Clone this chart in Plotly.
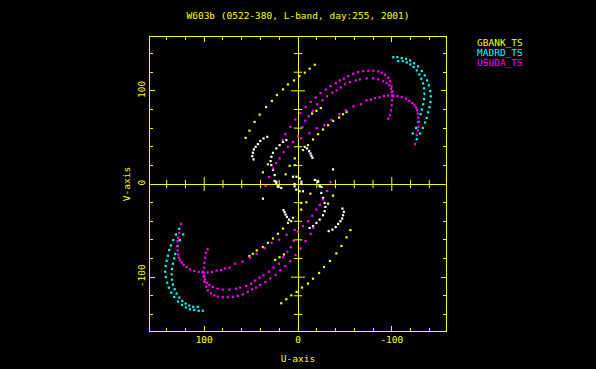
import plotly.graph_objects as go

title_text = "W603b (0522-380, L-band, day:255, 2001)"
station_names = ["GBANK_TS", "MADRD_TS", "USUDA_TS"]
station_colors = ["#ffff00", "#00ffff", "#ff00ff"]
ref_color = "#ffffff"
axis_color = "#ffff00"

# Upper half of the uv tracks (U, V in the same units as the axes).
# The conjugate points (-U, -V) complete the coverage.
gbank_u = [55.9, 51.7, 46.3, 40.9, 34.0, 27.8, 22.5, 16.0, 10.7, 4.3, -1.5, -7.2, -12.5, -17.9,
           13.2, 8.9, 3.5, -5.3, -10.7, -16.0, -21.4, -26.7, -32.1, -37.4, -43.9, -48.1, -51.8,
           37.4, 32.1, 3.5, -15.0, -19.7, -24.3]
gbank_v = [49.5, 57.2, 66.6, 74.5, 82.6, 89.1, 95.5, 101.6, 106.9, 111.2, 115.8, 119.5, 123.8, 128.0,
           10.4, 19.6, 27.5, 36.4, 41.7, 47.8, 53.5, 58.5, 63.1, 67.7, 71.3, 74.9, 77.3,
           12.5, 21.1, 20.3, 75.6, 78.6, 81.5]

madrd_u = [-101.6, -105.9, -110.6, -115.2, -119.5, -123.7, -128.0, -132.0, -135.2, -137.6,
           -139.5, -140.9, -141.6, -141.2, -140.1, -138.7, -137.3, -135.5, -133.0, -130.2, -126.6,
           -106.9, -111.7, -115.9, -119.8, -123.4, -126.6, -129.4, -131.5, -133.4, -134.4,
           -134.8, -134.4, -133.4, -132.0, -130.9, -128.3, -125.9, -122.4]
madrd_v = [136.1, 136.1, 135.1, 134.4, 132.6, 129.7, 126.2, 121.2, 116.6, 111.2,
           105.9, 99.8, 94.1, 88.0, 82.4, 77.0, 70.9, 66.0, 60.2, 54.2, 48.1,
           131.9, 131.9, 130.5, 128.3, 125.5, 121.9, 117.6, 113.0, 108.0, 102.7,
           97.0, 91.2, 85.6, 79.9, 74.9, 66.6, 60.2, 54.2]

usuda_u = [16.4, 13.5, 8.1, 2.8, -2.6, -8.2, -13.6, -18.9, -24.0, -29.6, -34.6, -40.3, -44.6,
           -48.9, -53.5, -58.8, -64.2, -69.5, -74.9, -80.2, -85.6, -89.2, -92.7, -96.3, -98.1,
           -99.9, -100.7, -101.3,
           34.5, 31.0, 26.7, 23.3, 19.6, 15.3, 10.7, 5.3, 0.0, -4.7, -7.7, -11.4, -15.7, -20.3,
           -26.1, -31.0, -36.8, -41.1, -45.7, -49.9, -55.3, -61.7, -66.0, -73.2, -80.2, -85.6,
           -90.9, -94.5, -97.3, -99.1, -99.9, -100.5, -100.2, -99.9, -99.1, -98.1, -96.3,
           -3.5, -12.1, -20.0, -28.1, -35.6, -44.2, -51.0, -59.1, -67.1, -73.0, -77.8, -82.0,
           -86.9, -91.7, -96.3, -101.6, -105.9, -110.6, -115.2, -118.7, -121.9, -124.1, -125.9,
           -127.0, -127.7, -128.3, -128.8, -128.3, -127.7, -126.6, -124.8]
usuda_v = [47.1, 53.5, 61.3, 69.2, 76.2, 82.7, 88.0, 92.7, 97.6, 101.3, 105.2, 108.3, 111.2,
           113.0, 115.8, 118.4, 120.1, 121.2, 121.6, 121.6, 120.9, 119.5, 117.3, 114.1, 110.2,
           104.8, 99.5, 94.1,
           -2.1, 7.5, 16.7, 22.5, 27.5, 34.2, 39.9, 45.2, 51.3, 61.0, 67.9, 72.7, 78.6, 85.6,
           89.8, 94.1, 98.1, 100.5, 103.7, 107.0, 109.4, 111.2, 112.3, 113.4, 113.4, 112.3,
           110.5, 108.3, 105.9, 102.4, 98.7, 95.2, 89.8, 84.5, 79.1, 73.8, 70.3,
           49.2, 54.5, 59.9, 63.1, 68.8, 74.9, 79.1, 83.4, 85.6, 89.8, 90.6, 92.3,
           93.0, 94.4, 94.9, 94.9, 94.4, 93.4, 91.7, 89.1, 86.9, 84.5, 82.0,
           79.1, 75.6, 71.3, 66.6, 61.3, 57.8, 52.4, 42.8]

ref_u = [32.7, 36.7, 40.2, 42.8, 45.2, 47.1, 48.1, 48.8, 47.4,
         12.4, 16.0, 19.6, 23.1, 26.7, 28.4, 29.2, 28.4, 26.7, 24.9, 23.1, 21.4,
         -7.2, -9.6, -11.8, -13.3, -14.3, -15.4, -37.4,
         -17.9, -21.4, -23.2, -25.0, 5.3, 1.7, -1.8, -3.6, -3.6]
ref_v = [50.6, 48.9, 46.2, 42.8, 39.9, 37.1, 33.5, 29.9, 26.4,
         47.1, 45.2, 41.7, 38.2, 33.5, 29.2, 24.6, 20.3, 15.0, 9.6, 2.5, -2.9,
         39.9, 38.2, 35.3, 32.8, 30.3, 28.1, 15.7,
         4.3, 2.5, -1.1, -3.2, 7.8, 7.8, 6.1, 2.5, 0.0]

tick_vals = [-100, 0, 100]
tick_text = ["-100", "0", "100"]
minor_vals = [-140, -120, -80, -60, -40, -20, 20, 40, 60, 80, 120, 140]
major_side_vals = [-100, 100]
axis_range = 157.8


def with_conjugate(u, v):
    return u + [-x for x in u], v + [-y for y in v]


font_family = "DejaVu Sans Mono"
fig = go.Figure()

series = [(ref_u, ref_v, ref_color),
          (gbank_u, gbank_v, station_colors[0]),
          (madrd_u, madrd_v, station_colors[1]),
          (usuda_u, usuda_v, station_colors[2])]
for u, v, c in series:
    uu, vv = with_conjugate(u, v)
    fig.add_trace(go.Scatter(x=uu, y=vv, mode="markers",
                             marker=dict(symbol="square", size=2.2, color=c, line=dict(width=0)),
                             showlegend=False, hoverinfo="skip"))

# ticks on the central cross axes
fig.add_trace(go.Scatter(x=minor_vals, y=[0] * len(minor_vals), mode="markers",
                         marker=dict(symbol="line-ns", size=6, line=dict(color=axis_color, width=1)),
                         showlegend=False, hoverinfo="skip"))
fig.add_trace(go.Scatter(x=major_side_vals, y=[0] * len(major_side_vals), mode="markers",
                         marker=dict(symbol="line-ns", size=10, line=dict(color=axis_color, width=1)),
                         showlegend=False, hoverinfo="skip"))
fig.add_trace(go.Scatter(x=[0] * len(minor_vals), y=minor_vals, mode="markers",
                         marker=dict(symbol="line-ew", size=6, line=dict(color=axis_color, width=1)),
                         showlegend=False, hoverinfo="skip"))
fig.add_trace(go.Scatter(x=[0] * len(major_side_vals), y=major_side_vals, mode="markers",
                         marker=dict(symbol="line-ew", size=10, line=dict(color=axis_color, width=1)),
                         showlegend=False, hoverinfo="skip"))

axis_common = dict(
    showgrid=False, zeroline=True, zerolinecolor=axis_color, zerolinewidth=1,
    showline=True, linecolor=axis_color, linewidth=1, mirror="allticks",
    ticks="inside", ticklen=5, tickcolor=axis_color, tickwidth=1,
    tickvals=tick_vals, ticktext=tick_text, automargin=False,
    tickfont=dict(family=font_family, size=9.5, color=axis_color),
    minor=dict(tickvals=minor_vals, ticks="inside", ticklen=3, tickcolor=axis_color, tickwidth=1),
)

fig.update_layout(
    width=596, height=369,
    paper_bgcolor="black", plot_bgcolor="black",
    margin=dict(l=150, r=150, t=37, b=38, autoexpand=False),
    title=dict(text=title_text, x=0.5, xanchor="center", y=1 - 16 / 369, yanchor="middle",
               font=dict(family=font_family, size=9.5, color=axis_color)),
    xaxis=dict(range=[axis_range, -axis_range],
               title=dict(text="U-axis", standoff=10, font=dict(family=font_family, size=9.5, color=axis_color)),
               **axis_common),
    yaxis=dict(range=[-axis_range, axis_range], tickangle=-90,
               title=dict(text="V-axis", standoff=3, font=dict(family=font_family, size=9.5, color=axis_color)),
               **axis_common),
)

for i, (name, col) in enumerate(zip(station_names, station_colors)):
    fig.add_annotation(text=name, xref="paper", yref="paper", x=(475 - 150) / 296,
                       y=1 + (37 - 42.5 - 10.2 * i) / 294, xanchor="left", yanchor="middle",
                       showarrow=False, font=dict(family=font_family, size=9.5, color=col))

fig.write_html("out.html", config={"displayModeBar": False},
               post_script="document.body.style.margin='0';")
